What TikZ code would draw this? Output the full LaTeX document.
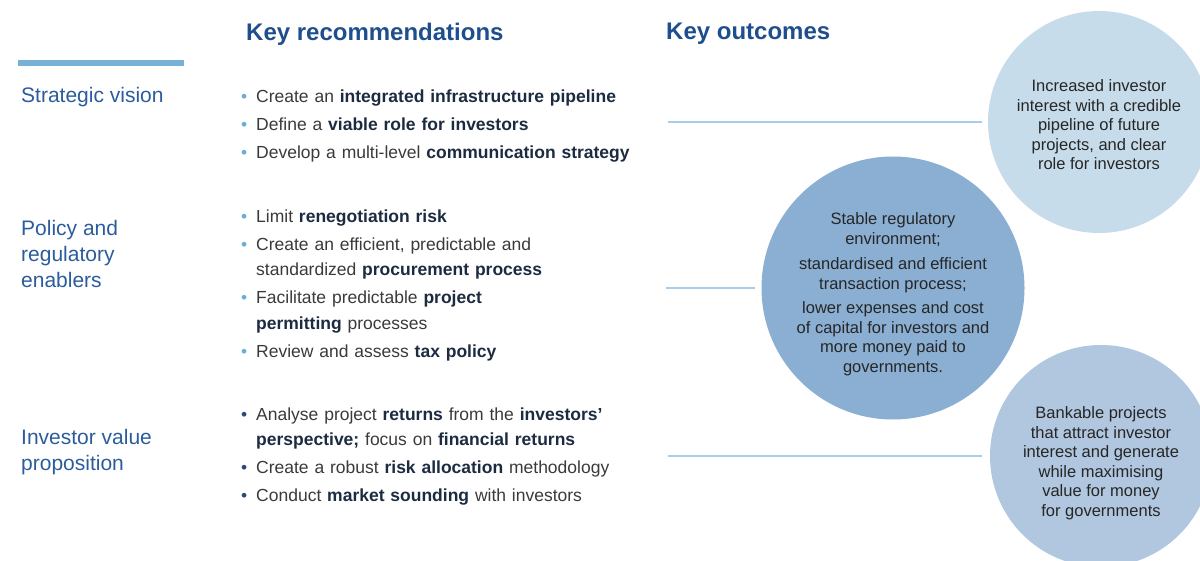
\documentclass[tikz,border=0pt]{standalone}
\usepackage{fontspec}
\setmainfont{Liberation Sans}
\usepackage{tikz}
\usetikzlibrary{positioning}
\definecolor{titleblue}{HTML}{1F4E8C}
\definecolor{catblue}{HTML}{2B5C9C}
\definecolor{bodygray}{HTML}{3A3A3A}
\definecolor{boldnavy}{HTML}{1C2B40}
\definecolor{dotblue}{HTML}{6AAED6}
\definecolor{dotnavy}{HTML}{2A4A78}
\definecolor{barblue}{HTML}{78B1D8}
\definecolor{lineblue}{HTML}{A9CDE8}
\definecolor{paleblue}{HTML}{C7DCEA}
\definecolor{midblue}{HTML}{8AAFD3}
\definecolor{softblue}{HTML}{B0C7DF}
\newcommand{\hl}[1]{{\bfseries\color{boldnavy}#1}}
\newcommand{\dotcol}{dotblue}
\newcommand{\recitem}[1]{\par\noindent\hangindent=15pt\hangafter=1\makebox[15pt][l]{\textcolor{\dotcol}{\textbullet}}#1}

\begin{document}
\begin{tikzpicture}[x=1pt,y=-1pt]
    \tikzstyle{head}=[anchor=west, inner sep=0, font=\fontsize{24}{28}\selectfont\bfseries, text=titleblue]
    \tikzstyle{cat}=[anchor=north west, inner sep=0, align=left, font=\fontsize{21}{26}\selectfont, text=catblue]
    \tikzstyle{rec}=[anchor=north west, inner sep=0, text width=440pt, text=bodygray, font=\fontsize{17.5}{25.5}\selectfont\setlength{\parskip}{2.5pt}\raggedright]
    \tikzstyle{outcome}=[circle, inner sep=0]
    \tikzstyle{outtext}=[inner sep=0, align=center, text=black!85, font=\fontsize{16.5}{19.5}\selectfont]
    \tikzstyle{link}=[draw=lineblue, line width=2pt]
    \useasboundingbox (0,0) rectangle (1200,561);

      \node[head] (hrec) at (246,34) {Key recommendations};
      \node[head] (hout) at (666,34) {Key outcomes};
      \draw[barblue, line width=6pt] (18,63) -- (184,63);

      \node[cat] (vision) at (21,87) {Strategic vision};
      \node[cat] (policy) at (21,220) {Policy and\\regulatory\\enablers};
      \node[cat] (value) at (21,429) {Investor value\\proposition};

      \node[rec] (recvision) at (241,74) {%
        \recitem{Create an \hl{integrated infrastructure pipeline}}
        \recitem{Define a \hl{viable role for investors}}
        \recitem{Develop a multi-level \hl{communication strategy}}};
      \node[rec] (recpolicy) at (241,194) {%
        \recitem{Limit \hl{renegotiation risk}}
        \recitem{Create an efficient, predictable and\newline standardized \hl{procurement process}}
        \recitem{Facilitate predictable \hl{project}\newline\hl{permitting} processes}
        \recitem{Review and assess \hl{tax policy}}};
      \node[rec] (recvalue) at (241,392) {\renewcommand{\dotcol}{dotnavy}%
        \recitem{Analyse project \hl{returns} from the \hl{investors'}\newline\hl{perspective;} focus on \hl{financial returns}}
        \recitem{Create a robust \hl{risk allocation} methodology}
        \recitem{Conduct \hl{market sounding} with investors}};

      \node[outcome, fill=paleblue, minimum size=222pt] (circ1) at (1099,122) {};
      \node[outcome, fill=midblue, minimum size=263pt] (circ2) at (893,288) {};
      \node[outcome, fill=softblue, minimum size=222pt] (circ3) at (1101,456) {};

      \node[outtext] (out1) at ([yshift=-3pt]circ1.center)
        {Increased investor\\interest with a credible\\pipeline of future\\projects, and clear\\role for investors};
      \node[outtext] (out2) at ([yshift=-6pt]circ2.center)
        {Stable regulatory\\environment;\\[6pt]standardised and efficient\\transaction process;\\[5pt]lower expenses and cost\\of capital for investors and\\more money paid to\\governments.};
      \node[outtext] (out3) at ([yshift=-7pt]circ3.center)
        {Bankable projects\\that attract investor\\interest and generate\\while maximising\\value for money\\for governments};

      \coordinate (s1) at (668,122);
      \coordinate (s2) at (666,288);
      \coordinate (s3) at (668,456);
      \path (s1) edge [link, shorten >=6pt] (circ1);
      \path (s2) edge [link, shorten >=6pt] (circ2);
      \path (s3) edge [link, shorten >=8pt] (circ3);
\end{tikzpicture}
\end{document}
